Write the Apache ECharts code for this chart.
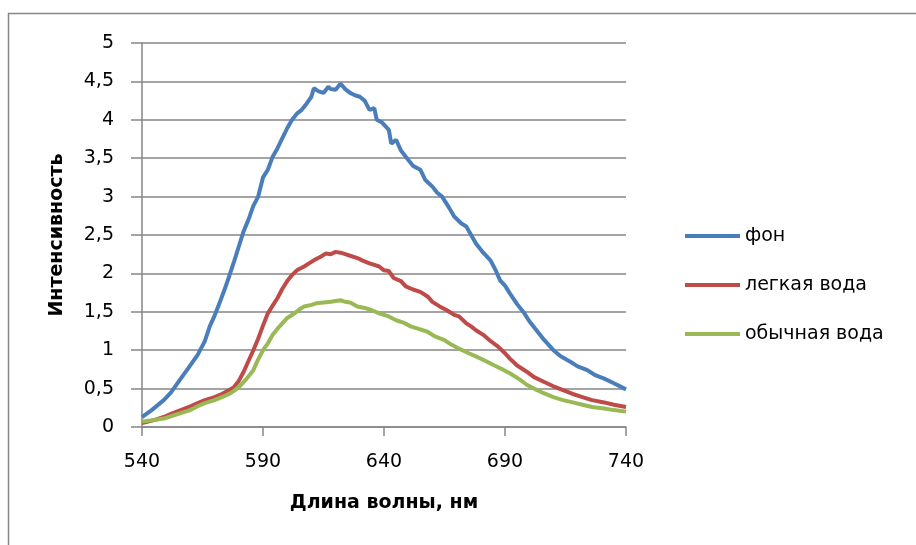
<!DOCTYPE html>
<html><head><meta charset="utf-8">
<script src="https://cdn.jsdelivr.net/npm/echarts@6/dist/echarts.min.js"></script>
<style>html,body{margin:0;padding:0;background:#fff}#c{width:916px;height:545px}</style>
</head><body><div id="c"></div>
<script>
const seriesNames = ['фон', 'легкая вода', 'обычная вода'];
const xTicks = [540, 590, 640, 690, 740];
const yTicks = [0, 0.5, 1, 1.5, 2, 2.5, 3, 3.5, 4, 4.5, 5];

const fonX = [540,544,549,552,556,559,563,566,568,570,572,574,576,578,580,582,584,586,588,590,592,594,596,598,600,602,604,606,608,610,611,613,615,617,618,620,622,624,626,628,630,632,634,636,637,639,642,643,645,647,649,652,655,657,660,662,664,667,669,672,674,676,678,681,684,686,688,690,692,695,698,700,703,706,710,713,717,720,724,727,731,735,740];
const fonY = [0.13,0.22,0.35,0.45,0.63,0.76,0.94,1.12,1.31,1.45,1.61,1.78,1.96,2.15,2.35,2.55,2.70,2.88,3.00,3.25,3.35,3.52,3.63,3.76,3.89,4.00,4.08,4.13,4.21,4.30,4.41,4.37,4.35,4.43,4.40,4.39,4.47,4.40,4.35,4.32,4.30,4.25,4.13,4.15,4.00,3.97,3.87,3.69,3.74,3.60,3.52,3.40,3.35,3.22,3.13,3.05,3.00,2.85,2.74,2.65,2.61,2.50,2.39,2.27,2.17,2.05,1.91,1.84,1.74,1.60,1.48,1.38,1.26,1.14,1.00,0.92,0.85,0.79,0.74,0.68,0.63,0.57,0.49];

const lightX = [540,545,549,552,556,560,563,566,570,573,576,578,580,582,584,586,588,590,592,594,596,598,600,602,604,607,609,611,614,616,618,620,622,624,626,629,631,634,636,638,640,642,644,647,649,652,655,658,660,663,666,669,671,674,676,678,681,684,687,690,692,695,699,702,706,710,714,718,722,726,731,735,740];
const lightY = [0.05,0.09,0.13,0.17,0.22,0.27,0.31,0.35,0.39,0.43,0.48,0.52,0.60,0.72,0.86,1.00,1.15,1.32,1.48,1.58,1.68,1.80,1.90,1.98,2.04,2.09,2.13,2.17,2.22,2.26,2.25,2.28,2.27,2.25,2.23,2.20,2.17,2.13,2.11,2.09,2.04,2.03,1.94,1.90,1.83,1.79,1.76,1.70,1.63,1.57,1.52,1.46,1.44,1.35,1.31,1.26,1.20,1.12,1.05,0.96,0.89,0.80,0.72,0.65,0.59,0.53,0.48,0.43,0.39,0.35,0.32,0.29,0.26];

const plainX = [540,545,549,552,556,560,563,566,570,573,576,578,580,583,586,588,590,592,594,596,598,600,603,605,607,610,612,615,618,620,622,624,626,629,632,635,638,640,642,645,648,651,654,658,661,665,668,671,675,678,682,685,689,692,696,699,702,706,710,714,718,722,726,731,735,740];
const plainY = [0.07,0.09,0.11,0.14,0.18,0.22,0.27,0.31,0.35,0.39,0.43,0.47,0.52,0.62,0.74,0.88,1.00,1.09,1.20,1.28,1.35,1.42,1.48,1.53,1.57,1.59,1.61,1.62,1.63,1.64,1.65,1.63,1.62,1.57,1.55,1.52,1.48,1.46,1.44,1.39,1.36,1.31,1.28,1.24,1.18,1.13,1.07,1.02,0.96,0.92,0.86,0.81,0.75,0.70,0.62,0.55,0.50,0.44,0.39,0.35,0.32,0.29,0.26,0.24,0.22,0.20];

const colors = ['#4A7EBB', '#BE4B48', '#98B954'];
const gray = '#868686';
const font = 'DejaVu Sans';

function pairs(xs, ys) { return xs.map((x, i) => [x, ys[i]]); }

const chart = echarts.init(document.getElementById('c'), null, {renderer: 'canvas'});
chart.setOption({
  animation: false,
  backgroundColor: '#fff',
  color: colors,
  graphic: [{
    type: 'rect', silent: true,
    shape: {x: 8.5, y: 13.5, width: 1000, height: 1000},
    style: {fill: 'none', stroke: gray, lineWidth: 1.5}
  }],
  grid: {left: 142, right: 290, top: 43, bottom: 118, containLabel: false},
  legend: {
    orient: 'vertical', left: 680, top: 221,
    itemWidth: 55, itemHeight: 4, itemGap: 29,
    icon: 'rect',
    textStyle: {fontFamily: font, fontSize: 19, color: '#000', lineHeight: 20},
    data: seriesNames
  },
  xAxis: {
    type: 'value', min: 540, max: 740, interval: 50,
    name: 'Длина волны, нм', nameLocation: 'middle', nameGap: 67,
    nameTextStyle: {fontFamily: font, fontSize: 19, fontWeight: 'bold', color: '#000'},
    axisLine: {show: true, lineStyle: {color: gray, width: 1.5}},
    axisTick: {show: true, length: 9, lineStyle: {color: gray, width: 1.5}},
    axisLabel: {fontFamily: font, fontSize: 19, color: '#000', margin: 26,
      formatter: v => xTicks.includes(v) ? String(v) : ''},
    splitLine: {show: false}
  },
  yAxis: {
    type: 'value', min: 0, max: 5, interval: 0.5,
    name: 'Интенсивность', nameLocation: 'middle', nameGap: 75, nameRotate: 90,
    nameTextStyle: {fontFamily: font, fontSize: 19, fontWeight: 'bold', color: '#000'},
    axisLine: {show: true, lineStyle: {color: gray, width: 1.5}},
    axisTick: {show: true, length: 11, lineStyle: {color: gray, width: 1.5}},
    axisLabel: {fontFamily: font, fontSize: 19, color: '#000', margin: 28,
      formatter: v => yTicks.includes(v) ? String(v).replace('.', ',') : ''},
    splitLine: {show: true, lineStyle: {color: gray, width: 1.5}}
  },
  series: [
    {name: seriesNames[0], type: 'line', data: pairs(fonX, fonY), showSymbol: false, lineStyle: {width: 4, color: colors[0]}, itemStyle: {color: colors[0]}},
    {name: seriesNames[1], type: 'line', data: pairs(lightX, lightY), showSymbol: false, lineStyle: {width: 4, color: colors[1]}, itemStyle: {color: colors[1]}},
    {name: seriesNames[2], type: 'line', data: pairs(plainX, plainY), showSymbol: false, lineStyle: {width: 4, color: colors[2]}, itemStyle: {color: colors[2]}}
  ]
});
</script></body></html>
